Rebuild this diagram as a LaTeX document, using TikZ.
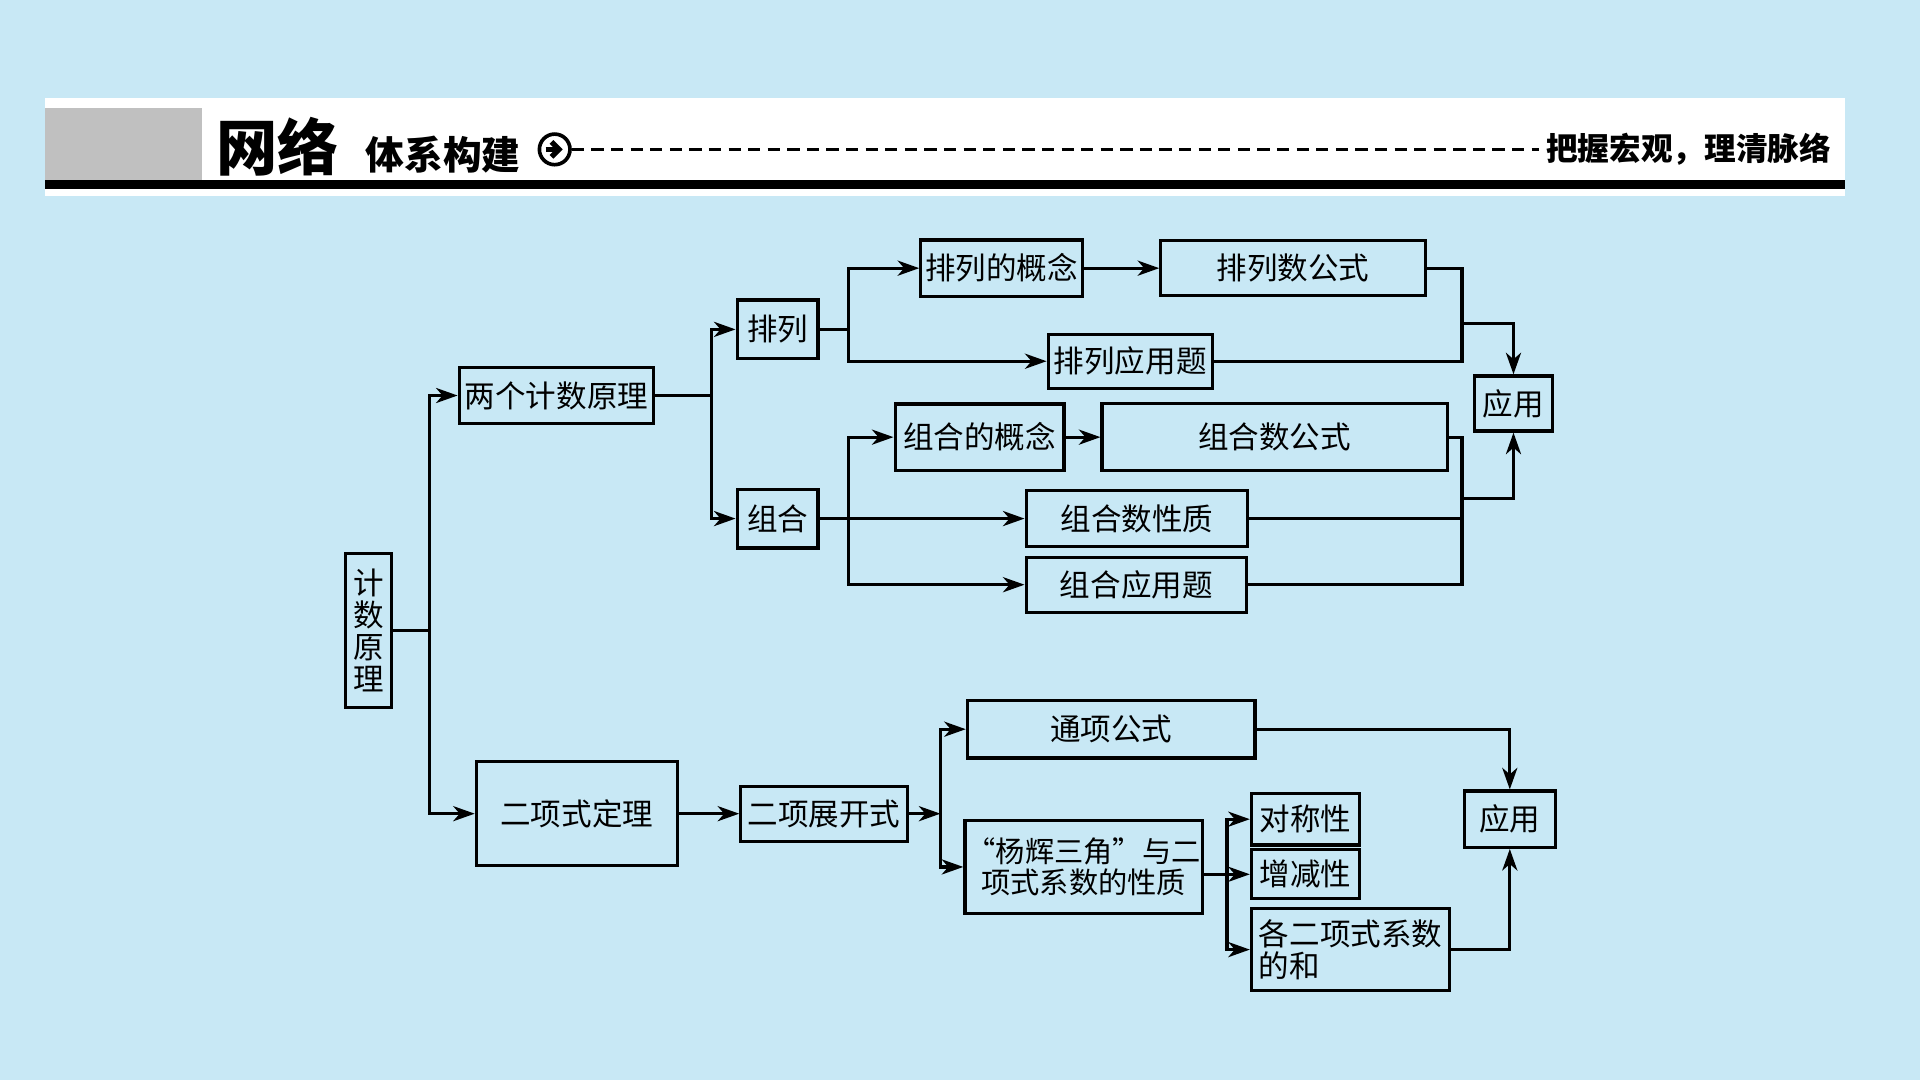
\documentclass[tikz,border=0pt]{standalone}
\usepackage{fontspec}
\newfontfamily\cjk{Noto Sans CJK SC}
\usetikzlibrary{arrows.meta}
\definecolor{bgblue}{RGB}{200,232,245}
\definecolor{bargray}{RGB}{192,192,192}

\begin{document}
\begin{tikzpicture}[x=0.02cm, y=-0.02cm,
  box/.style={draw, line width=1.5pt, inner sep=1pt, font=\cjk\fontsize{14.2pt}{14.8pt}\selectfont},
  link/.style={line width=1.5pt},
  >={Stealth[length=10pt,width=7pt,inset=3pt]}]
\fill[bgblue] (0,0) rectangle (1568,882);
\useasboundingbox (0,0) rectangle (1568,882);
% header
\fill[white] (37,80) rectangle (1507,160);
\fill[bargray] (37,88) rectangle (165,147);
\fill[black] (37,147) rectangle (1507,154);
\node (title) at (227,120) {\cjk\bfseries\fontsize{28.5pt}{30pt}\selectfont 网络};
\node (subtitle) at (362,126) {\cjk\bfseries\fontsize{18pt}{20pt}\selectfont 体系构建};
\node[circle, draw, line width=1.7pt, minimum size=0.5cm, inner sep=0pt] (icon) at (453,122) {};
\draw[line width=2.4pt, -{Straight Barb[length=3.5pt,width=7pt]}] ([xshift=-0.15cm]icon.center) -- ([xshift=0.13cm]icon.center);
\node (motto) at (1379,122) {\cjk\bfseries\fontsize{14.7pt}{16pt}\selectfont 把握宏观，理清脉络};
\draw[line width=1.1pt, dash pattern=on 0.2cm off 0.12cm] (icon.east) -- (motto.west);

% nodes
\node[box, minimum width=0.76cm, minimum height=2.52cm, align=center] (jishu) at (301,515) {计\\数\\原\\理};
\node[box, minimum width=3.18cm, minimum height=0.92cm] (liangge) at (454.5,323) {两个计数原理};
\node[box, minimum width=1.32cm, minimum height=0.96cm] (pailie) at (635,269) {排列};
\node[box, minimum width=1.32cm, minimum height=0.96cm] (zuhe) at (635,423.5) {组合};
\node[box, minimum width=2.64cm, minimum height=0.92cm] (plgn) at (818,219) {排列的概念};
\node[box, minimum width=4.32cm, minimum height=0.90cm] (plgs) at (1056,219) {排列数公式};
\node[box, minimum width=2.68cm, minimum height=0.88cm] (plyy) at (923,295) {排列应用题};
\node[box, minimum width=2.76cm, minimum height=1.08cm] (zhgn) at (800,357) {组合的概念};
\node[box, minimum width=5.64cm, minimum height=1.10cm] (zhgs) at (1041,357) {组合数公式};
\node[box, minimum width=3.62cm, minimum height=0.92cm] (zhxz) at (928.5,423.5) {组合数性质};
\node[box, minimum width=3.60cm, minimum height=0.90cm] (zhyy) at (928,477.5) {组合应用题};
\node[box, minimum width=1.28cm, minimum height=0.90cm] (yy1) at (1236,329.5) {应用};
\node[box, minimum width=3.28cm, minimum height=1.70cm] (ecdl) at (471,664.5) {二项式定理};
\node[box, minimum width=2.72cm, minimum height=0.90cm] (zkgs) at (673,664.5) {二项展开式};
\node[box, minimum width=4.70cm, minimum height=0.94cm] (txgs) at (907.5,595.5) {通项公式};
\node[box, minimum width=3.88cm, minimum height=1.52cm, inner xsep=0pt, align=center,
  font=\cjk\fontsize{13.6pt}{14.4pt}\selectfont] (yhsj) at (885,708) {“杨辉三角”与二\\项式系数的性质};
\node[box, minimum width=1.76cm, minimum height=0.84cm] (dcx) at (1066,669) {对称性};
\node[box, minimum width=1.76cm, minimum height=0.80cm] (zjx) at (1066,714) {增减性};
\node[box, minimum width=3.24cm, minimum height=1.34cm, align=left] (gexs) at (1103,775.5) {各二项式系数\\的和};
\node[box, minimum width=1.48cm, minimum height=0.92cm] (yy2) at (1233,669) {应用};

% junctions
\coordinate (j1) at (351,515);
\coordinate (j2) at (581,323);
\coordinate (j3) at (693,269);
\coordinate (j4) at (1194,264);
\coordinate (j5) at (693,423.5);
\coordinate (j6) at (1194,407);
\coordinate (j7) at (768,664.5);
\coordinate (j8) at (1002,714);

% connectors
\draw[link] (jishu.east) -- (j1);
\draw[link, ->] (j1) |- (liangge.west);
\draw[link, ->] (j1) |- (ecdl.west);
\draw[link] (liangge.east) -- (j2);
\draw[link, ->] (j2) |- (pailie.west);
\draw[link, ->] (j2) |- (zuhe.west);
\draw[link] (pailie.east) -- (j3);
\draw[link, ->] (j3) |- (plgn.west);
\draw[link, ->] (j3) |- (plyy.west);
\draw[link, ->] (plgn) -- (plgs);
\draw[link] (plgs.east) -| (j4);
\draw[link] (plyy.east) -| (j4);
\draw[link, ->] (j4) -| (yy1.north);
\draw[link, ->] (zuhe) -- (zhxz);
\draw[link, ->] (j5) |- (zhgn.west);
\draw[link, ->] (j5) |- (zhyy.west);
\draw[link, ->] (zhgn) -- (zhgs);
\draw[link] (zhgs.east) -| (j6);
\draw[link] (zhxz.east) -| (j6);
\draw[link] (zhyy.east) -| (j6);
\draw[link, ->] (j6) -| (yy1.south);
\draw[link, ->] (ecdl) -- (zkgs);
\draw[link, ->] (zkgs.east) -- (j7);
\draw[link, ->] (j7) |- (txgs.west);
\draw[link, ->] (j7) |- (yhsj.west);
\draw[link, ->] (txgs.east) -| (yy2.north);
\draw[link, ->] (yhsj.east |- zjx.west) -- (zjx.west);
\draw[link, ->] (j8) |- (dcx.west);
\draw[link, ->] (j8) |- (gexs.west);
\draw[link, ->] (gexs.east) -| (yy2.south);
\end{tikzpicture}
\end{document}
